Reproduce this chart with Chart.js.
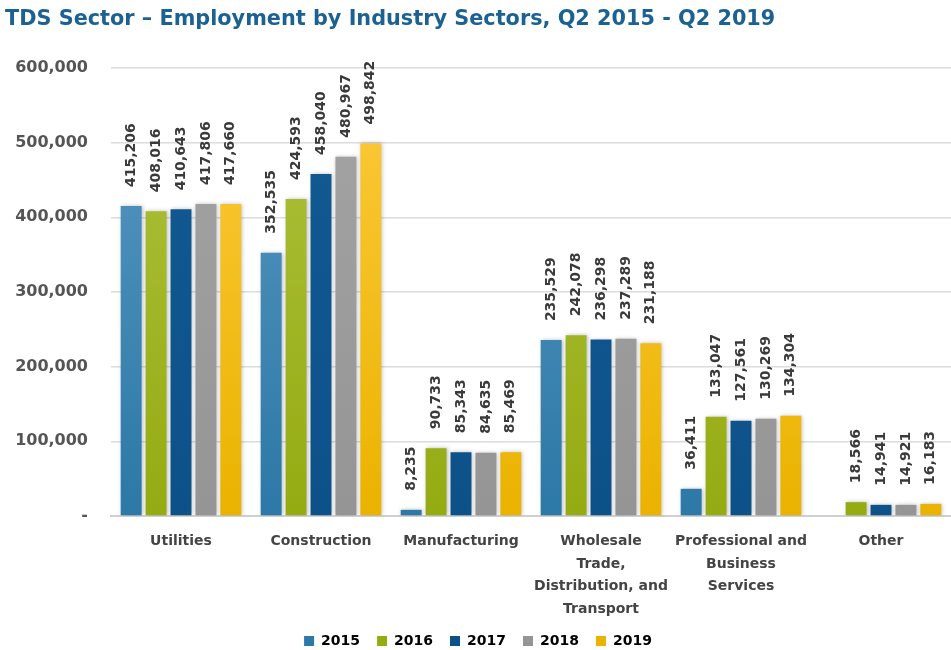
<!DOCTYPE html>
<html>
<head>
<meta charset="utf-8">
<script src="https://cdn.jsdelivr.net/npm/chart.js@4.4.1/dist/chart.umd.min.js"></script>
<style>
  html, body { margin: 0; padding: 0; background: #fff; }
  #wrap { width: 951px; height: 650px; position: relative; }
</style>
</head>
<body>
<div id="wrap"><canvas id="chart"></canvas></div>
<script>
// Employment by industry sector, Q2 of each year
const sectors = [
    'Utilities',
    'Construction',
    'Manufacturing',
    ['Wholesale', 'Trade,', 'Distribution, and', 'Transport'],
    ['Professional and', 'Business', 'Services'],
    'Other'
];
const years = ['2015', '2016', '2017', '2018', '2019'];
const emp2015 = [415206, 352535, 8235, 235529, 36411, null];
const emp2016 = [408016, 424593, 90733, 242078, 133047, 18566];
const emp2017 = [410643, 458040, 85343, 236298, 127561, 14941];
const emp2018 = [417806, 480967, 84635, 237289, 130269, 14921];
const emp2019 = [417660, 498842, 85469, 231188, 134304, 16183];
const yTicks = [0, 100000, 200000, 300000, 400000, 500000, 600000];

// top / bottom colour of each year's bars
const palette = [
    ['#5a98c4', '#2c78a6'],
    ['#afc23e', '#95ab12'],
    ['#135b93', '#0d5189'],
    ['#a4a4a4', '#959595'],
    ['#fdca3c', '#eab300']
];

const FONT = "'DejaVu Sans', sans-serif";

function barGradient(i) {
    return function(context) {
        const chart = context.chart;
        const area = chart.chartArea;
        if (!area) return palette[i][0];
        const g = chart.ctx.createLinearGradient(0, area.top, 0, area.bottom);
        g.addColorStop(0, palette[i][0]);
        g.addColorStop(1, palette[i][1]);
        return g;
    };
}

// rotated value labels above each bar
const valueLabels = {
    id: 'valueLabels',
    afterDatasetsDraw(chart) {
        const ctx = chart.ctx;
        ctx.save();
        ctx.font = 'bold 14px ' + FONT;
        ctx.fillStyle = '#3a3a3a';
        ctx.textAlign = 'left';
        ctx.textBaseline = 'middle';
        chart.data.datasets.forEach((ds, di) => {
            const meta = chart.getDatasetMeta(di);
            meta.data.forEach((bar, i) => {
                const v = ds.data[i];
                if (v === null || v === undefined) return;
                ctx.save();
                ctx.translate(bar.x, bar.y - 19);
                ctx.rotate(-Math.PI / 2);
                ctx.fillText(v.toLocaleString('en-US'), 0, 0);
                ctx.restore();
            });
        });
        ctx.restore();
    }
};

// soft shadow behind the bars
const barShadow = {
    id: 'barShadow',
    beforeDatasetsDraw(chart) {
        chart.ctx.save();
        chart.ctx.shadowColor = 'rgba(0,0,0,0.25)';
        chart.ctx.shadowBlur = 4;
        chart.ctx.shadowOffsetX = 1;
    },
    afterDatasetsDraw(chart) {
        chart.ctx.restore();
    }
};

const series = [emp2015, emp2016, emp2017, emp2018, emp2019];

new Chart(document.getElementById('chart'), {
    type: 'bar',
    data: {
        labels: sectors,
        datasets: years.map((y, i) => ({
            label: y,
            data: series[i],
            backgroundColor: barGradient(i),
            borderWidth: 0,
            categoryPercentage: 0.89,
            barPercentage: 0.84
        }))
    },
    plugins: [barShadow, valueLabels],
    options: {
        responsive: true,
        maintainAspectRatio: false,
        animation: false,
        layout: { padding: { left: 5, right: 0, top: 0, bottom: -8 } },
        plugins: {
            title: {
                display: true,
                text: 'TDS Sector \u2013 Employment by Industry Sectors, Q2 2015 - Q2 2019',
                align: 'start',
                color: '#1b6293',
                font: { family: FONT, size: 20.8, weight: 'bold' },
                padding: { top: 7, bottom: 36 }
            },
            legend: {
                position: 'bottom',
                labels: {
                    color: '#444',
                    font: { family: FONT, size: 14, weight: 'bold' },
                    boxWidth: 10,
                    boxHeight: 10,
                    padding: 17,
                    generateLabels(chart) {
                        return chart.data.datasets.map((ds, i) => ({
                            text: ds.label,
                            fillStyle: palette[i][1],
                            strokeStyle: palette[i][1],
                            lineWidth: 0,
                            datasetIndex: i
                        }));
                    }
                }
            },
            tooltip: { enabled: false }
        },
        scales: {
            x: {
                afterFit(axis) {
                    axis.height = 101;
                },
                grid: { display: false },
                border: { display: true, color: '#d0d0d0', width: 2 },
                ticks: {
                    color: '#444',
                    font: { family: FONT, size: 14, weight: 'bold', lineHeight: 1.62 },
                    maxRotation: 0,
                    autoSkip: false,
                    padding: 6
                }
            },
            y: {
                min: 0,
                max: 600000,
                afterBuildTicks(axis) {
                    axis.ticks = yTicks.map(v => ({ value: v }));
                },
                afterFit(axis) {
                    axis.width = 106;
                },
                grid: { color: '#dcdcdc', lineWidth: 1.5, drawTicks: false },
                border: { display: false },
                ticks: {
                    color: '#555',
                    font: { family: FONT, size: 16, weight: 'bold' },
                    padding: 23,
                    callback(v) {
                        return v === 0 ? '-' : v.toLocaleString('en-US');
                    }
                }
            }
        }
    }
});
</script>
</body>
</html>
